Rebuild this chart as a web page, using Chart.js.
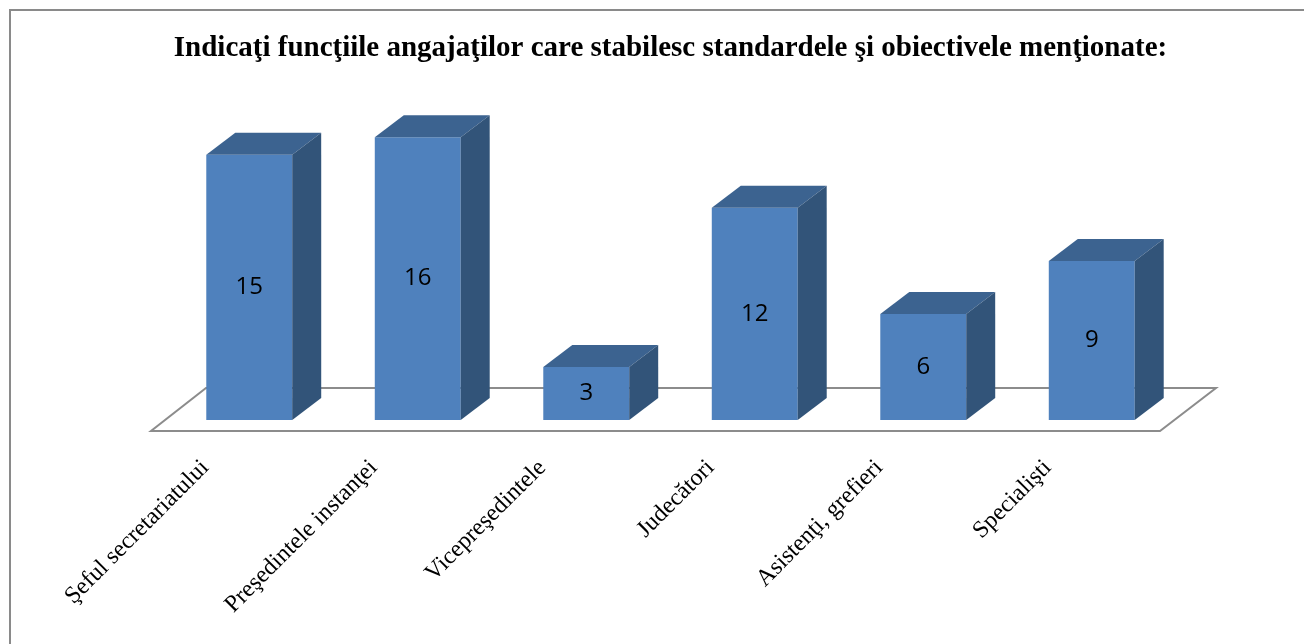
<!DOCTYPE html>
<html>
<head>
<meta charset="utf-8">
<script src="https://cdn.jsdelivr.net/npm/chart.js@4"></script>
<style>
    body { margin: 0; background: #fff; }
    canvas { display: block; }
</style>
</head>
<body>
<canvas id="chart" width="1304" height="644"></canvas>
<script>
// Chart data
const chartTitle = 'Indicaţi funcţiile angajaţilor care stabilesc standardele şi obiectivele menţionate:';
const categories = ['Şeful secretariatului', 'Preşedintele instanţei', 'Vicepreşedintele', 'Judecători', 'Asistenţi, grefieri', 'Specialişti'];
const counts = [15, 16, 3, 12, 6, 9];

// 3D look
const frontColor = '#4f81bd';
const topColor = '#3c6390';
const sideColor = '#325479';
const depthX = 29;
const depthY = -22;

// white background + outer frame
const backgroundPlugin = {
    id: 'background',
    beforeDraw(chart) {
        const ctx = chart.ctx;
        ctx.save();
        ctx.fillStyle = '#fff';
        ctx.fillRect(0, 0, chart.width, chart.height);
        ctx.strokeStyle = '#8a8a8a';
        ctx.lineWidth = 2;
        ctx.beginPath();
        ctx.moveTo(10, chart.height + 5);
        ctx.lineTo(10, 10);
        ctx.lineTo(chart.width + 5, 10);
        ctx.stroke();
        ctx.restore();
    }
};

// floor under the bars
const floorPlugin = {
    id: 'floor',
    beforeDatasetsDraw(chart) {
        const ctx = chart.ctx;
        const area = chart.chartArea;
        const fy = area.bottom + 11;
        const fx1 = area.left - 14;
        const fx2 = area.right - 16;
        ctx.save();
        ctx.fillStyle = '#fff';
        ctx.strokeStyle = '#8c8c8c';
        ctx.lineWidth = 2;
        ctx.beginPath();
        ctx.moveTo(fx1, fy);
        ctx.lineTo(fx2, fy);
        ctx.lineTo(fx2 + 56, fy - 43);
        ctx.lineTo(fx1 + 55, fy - 43);
        ctx.closePath();
        ctx.fill();
        ctx.stroke();
        ctx.restore();
    }
};

// top and side faces, then the value in the middle of each bar
const barSidesPlugin = {
    id: 'barSides',
    afterDatasetsDraw(chart) {
        const ctx = chart.ctx;
        const meta = chart.getDatasetMeta(0);
        ctx.save();
        meta.data.forEach((bar, i) => {
            const left = bar.x - bar.width / 2;
            const right = bar.x + bar.width / 2;
            const top = bar.y;
            const bottom = bar.base;

            ctx.fillStyle = topColor;
            ctx.beginPath();
            ctx.moveTo(left, top);
            ctx.lineTo(left + depthX, top + depthY);
            ctx.lineTo(right + depthX, top + depthY);
            ctx.lineTo(right, top);
            ctx.closePath();
            ctx.fill();

            ctx.fillStyle = sideColor;
            ctx.beginPath();
            ctx.moveTo(right, top);
            ctx.lineTo(right + depthX, top + depthY);
            ctx.lineTo(right + depthX, bottom + depthY);
            ctx.lineTo(right, bottom);
            ctx.closePath();
            ctx.fill();

            ctx.fillStyle = '#000';
            ctx.font = '24px "Open Sans"';
            ctx.textAlign = 'center';
            ctx.textBaseline = 'middle';
            ctx.fillText(String(counts[i]), bar.x, (top + bottom) / 2);
        });
        ctx.restore();
    }
};

new Chart(document.getElementById('chart').getContext('2d'), {
    type: 'bar',
    data: {
        labels: categories,
        datasets: [{
            data: counts,
            backgroundColor: frontColor,
            borderWidth: 0,
            categoryPercentage: 1,
            barPercentage: 0.51
        }]
    },
    options: {
        responsive: false,
        animation: false,
        devicePixelRatio: 1,
        layout: {
            padding: { left: 165, right: 128, top: 0, bottom: 0 }
        },
        scales: {
            x: {
                grid: { display: false, drawTicks: false },
                border: { display: false },
                ticks: {
                    minRotation: 45,
                    maxRotation: 45,
                    autoSkip: false,
                    padding: 34,
                    labelOffset: -44,
                    color: '#000',
                    font: { family: '"Liberation Serif"', size: 24 }
                },
                afterFit(scale) {
                    scale.height = 224;
                }
            },
            y: {
                display: false,
                min: 0,
                max: 18
            }
        },
        plugins: {
            legend: { display: false },
            tooltip: { enabled: false },
            title: {
                display: true,
                text: chartTitle,
                color: '#000',
                font: { family: '"Liberation Serif"', size: 29, weight: 'bold' },
                padding: { top: 31, bottom: 36 }
            }
        }
    },
    plugins: [backgroundPlugin, floorPlugin, barSidesPlugin]
});
</script>
</body>
</html>
